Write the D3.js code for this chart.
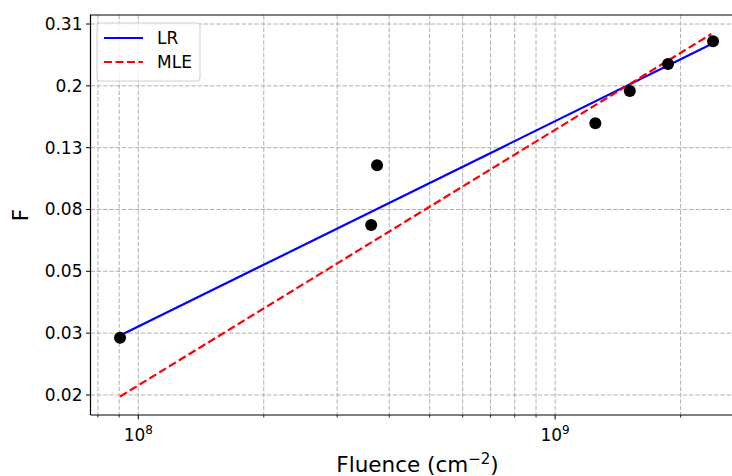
<!DOCTYPE html>
<html><head><meta charset="utf-8">
<script src="https://cdn.jsdelivr.net/npm/d3@7"></script>
<style>body{margin:0;background:#fff}svg{display:block;font-family:"DejaVu Sans",sans-serif}</style>
</head><body><svg id="c" width="732" height="476"></svg>
<script>
// Data (Weibull probability plot)
const fluence = [9.04e7, 3.62e8, 3.74e8, 1.249e9, 1.511e9, 1.866e9, 2.393e9];
const probF   = [0.0287, 0.0699, 0.1107, 0.1519, 0.1926, 0.2338, 0.2737];
const lrX  = [9.04e7, 2.393e9];
const lrF  = [0.02917, 0.2700];
const mleX = [9.04e7, 2.37e9];
const mleF = [0.01792, 0.2877];
const yTickPos    = [-4, -3.5, -3, -2.5, -2, -1.5, -1];
const yTickLabels = ["0.02", "0.03", "0.05", "0.08", "0.13", "0.2", "0.31"];
const xMajor = [1e8, 1e9];
const xMajorLabels = ["8", "9"];
const xMinor = [8e7, 9e7, 2e8, 3e8, 4e8, 5e8, 6e8, 7e8, 8e8, 9e8, 2e9];
const legendItems = ["LR", "MLE"];

const weib = F => Math.log(-Math.log(1 - F));

const L = 90.5, R = 741.5, T = 15, B = 415;
const x = d3.scaleLog().domain([7.68e7, 2.80e9]).range([L, R]);
const y = d3.scaleLinear().domain([-4.162, -0.927]).range([B, T]);

const svg = d3.select("#c");
const g = svg.append("g");

// grid
const gridStyle = s => s.attr("stroke", "#b0b0b0").attr("stroke-width", 1).attr("stroke-dasharray", "4.4,1.9");
g.selectAll(".gx").data(xMajor.concat(xMinor)).enter().append("line")
  .attr("x1", d => x(d)).attr("x2", d => x(d)).attr("y1", T).attr("y2", B).call(gridStyle);
g.selectAll(".gy").data(yTickPos).enter().append("line")
  .attr("x1", L).attr("x2", R).attr("y1", d => y(d)).attr("y2", d => y(d)).call(gridStyle);

// lines
const line = d3.line().x(d => x(d[0])).y(d => y(weib(d[1])));
g.append("path").datum(lrX.map((v, i) => [v, lrF[i]])).attr("d", line)
  .attr("fill", "none").attr("stroke", "#0000ff").attr("stroke-width", 2.2);
g.append("path").datum(mleX.map((v, i) => [v, mleF[i]])).attr("d", line)
  .attr("fill", "none").attr("stroke", "#ff0000").attr("stroke-width", 2.2).attr("stroke-dasharray", "8,3.5");

// points
g.selectAll(".pt").data(fluence).enter().append("circle")
  .attr("cx", d => x(d)).attr("cy", (d, i) => y(weib(probF[i]))).attr("r", 6).attr("fill", "#000");

// spines
g.append("path").attr("d", `M${L},${B}V${T}H${R}`).attr("fill", "none").attr("stroke", "#000").attr("stroke-width", 1.2);
g.append("line").attr("x1", L).attr("x2", R).attr("y1", B).attr("y2", B).attr("stroke", "#000").attr("stroke-width", 1.2);

// y ticks
const yt = g.selectAll(".yt").data(yTickPos).enter().append("g").attr("transform", d => `translate(${L},${y(d)})`);
yt.append("line").attr("x1", -4.5).attr("x2", 0).attr("stroke", "#000").attr("stroke-width", 1);
yt.append("text").attr("x", -8).attr("dy", "0.35em").attr("text-anchor", "end").attr("font-size", 17)
  .text((d, i) => yTickLabels[i]);

// x ticks
const xt = g.selectAll(".xt").data(xMajor).enter().append("g").attr("transform", d => `translate(${x(d)},${B})`);
xt.append("line").attr("y1", 0).attr("y2", 4.5).attr("stroke", "#000").attr("stroke-width", 1);
const xtt = xt.append("text").attr("y", 25.5).attr("text-anchor", "middle").attr("font-size", 17);
xtt.append("tspan").text("10");
xtt.append("tspan").attr("dy", -7).attr("font-size", 12).text((d, i) => xMajorLabels[i]);
g.selectAll(".xm").data(xMinor).enter().append("line")
  .attr("x1", d => x(d)).attr("x2", d => x(d)).attr("y1", B).attr("y2", B + 2.6).attr("stroke", "#000").attr("stroke-width", 0.8);

// axis labels
const xl = svg.append("text").attr("x", 417.5).attr("y", 472).attr("text-anchor", "middle").attr("font-size", 21.5);
xl.append("tspan").text("Fluence (cm");
xl.append("tspan").attr("dy", -8.5).attr("font-size", 15).text("−2");
xl.append("tspan").attr("dy", 8.5).text(")");
svg.append("text").attr("transform", `translate(28,${(T + B) / 2}) rotate(-90)`).attr("text-anchor", "middle")
  .attr("font-size", 21.5).text("F");

// legend
const lg = svg.append("g");
lg.append("rect").attr("x", 97).attr("y", 23).attr("width", 103).attr("height", 58).attr("rx", 3)
  .attr("fill", "#fff").attr("fill-opacity", 0.8).attr("stroke", "#d0d0d0").attr("stroke-width", 1);
const colors = ["#0000ff", "#ff0000"], dashes = [null, "8,3.5"];
legendItems.forEach((t, i) => {
  const yy = 38 + i * 24;
  lg.append("line").attr("x1", 104).attr("x2", 143).attr("y1", yy).attr("y2", yy)
    .attr("stroke", colors[i]).attr("stroke-width", 2.2).attr("stroke-dasharray", dashes[i]);
  lg.append("text").attr("x", 157).attr("y", yy).attr("dy", "0.35em").attr("font-size", 17).text(t);
});
</script></body></html>
